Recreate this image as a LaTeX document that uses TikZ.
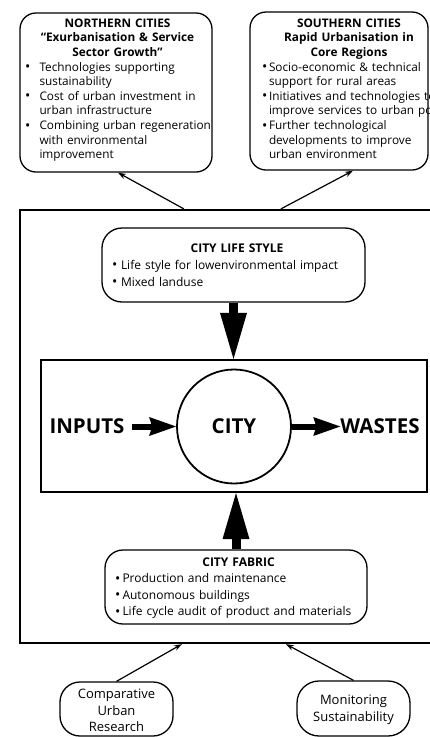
\documentclass[tikz,border=0pt]{standalone}
\usepackage{fontspec}
\setmainfont{Open Sans}
\usetikzlibrary{arrows.meta}

% bullet indentation inside the text blocks; every line ends its own paragraph
\newlength\bind
\newcommand\dotmark{\raisebox{-0.5pt}{\fontsize{14pt}{14pt}\selectfont\textbullet}}
\newcommand\titleline[1]{\noindent\makebox[\linewidth]{\bfseries #1}\par}
\newcommand\bulletline[1]{\noindent\makebox[\bind][l]{\dotmark}\mbox{#1}\par}
\newcommand\contline[1]{\noindent\hspace*{\bind}\mbox{#1}\par}

\newcommand\fontA{\fontsize{11.8pt}{14.6pt}\selectfont}
\newcommand\fontB{\fontsize{12pt}{17pt}\selectfont}
\newcommand\fontC{\fontsize{12pt}{16.5pt}\selectfont}
\newcommand\fontD{\fontsize{13pt}{16.5pt}\selectfont}

\begin{document}
\begin{tikzpicture}[x=1pt,y=-1pt,
  rbox/.style={draw, line width=1.3pt, inner sep=0pt},
  frame/.style={draw, line width=2.2pt, inner sep=0pt},
  txt/.style={inner sep=0pt, anchor=base, align=left},
  bigtxt/.style={inner sep=0pt, font=\fontsize{20.5pt}{24pt}\selectfont\bfseries},
  thinarrow/.style={line width=1.2pt, -{Stealth[length=8pt,width=5.5pt]}},
  fatarrow/.style={line width=6pt, -{Stealth[length=27pt,width=19pt,inset=3pt,line width=0pt]}},
  bigarrow/.style={line width=9pt, -{Triangle[length=46pt,width=27pt,line width=0pt]}}]

\useasboundingbox (0,0) rectangle (430,737);
\clip (0,0) rectangle (430,737);

% frames
\node[frame, minimum width=450pt, minimum height=433pt] (outer) at (245,426.5) {};
\node[frame, minimum width=386pt, minimum height=132pt] (inner) at (234,426) {};

% rounded boxes
\node[rbox, rounded corners=16pt, minimum width=192pt, minimum height=159pt] (north) at (116,92.5) {};
\node[rbox, rounded corners=16pt, minimum width=178pt, minimum height=158pt] (south) at (339,91) {};
\node[rbox, rounded corners=20pt, minimum width=263pt, minimum height=74pt] (life) at (233.5,265) {};
\node[rbox, rounded corners=18pt, minimum width=262pt, minimum height=74pt] (fab) at (236,587) {};
\node[rbox, rounded corners=20pt, minimum width=113pt, minimum height=54pt] (comp) at (116.5,709) {};
\node[rbox, rounded corners=22pt, minimum width=113pt, minimum height=55pt] (mon) at (353.5,708.5) {};

% box texts
\node[txt, text width=185pt, font=\fontA] (northtxt) at (117.5,27.3) {%
  \setlength\bind{14.5pt}%
  \titleline{NORTHERN CITIES}%
  \titleline{“Exurbanisation \& Service}%
  \titleline{Sector Growth”}%
  \bulletline{Technologies supporting}\contline{sustainability}%
  \bulletline{Cost of urban investment in}\contline{urban infrastructure}%
  \bulletline{Combining urban regeneration}\contline{with environmental}\contline{improvement}};

\node[txt, text width=174pt, font=\fontA] (southtxt) at (349,27.3) {%
  \setlength\bind{7pt}%
  \titleline{SOUTHERN CITIES}%
  \titleline{Rapid Urbanisation in}%
  \titleline{Core Regions}%
  \bulletline{Socio-economic \& technical}\contline{support for rural areas}%
  \bulletline{Initiatives and technologies to}\contline{improve services to urban poor}%
  \bulletline{Further technological}\contline{developments to improve}\contline{urban environment}};

\node[txt, text width=250pt, font=\fontB] (lifetxt) at (237,252) {%
  \setlength\bind{9pt}%
  \titleline{CITY LIFE STYLE}%
  \bulletline{Life style for lowenvironmental impact}%
  \bulletline{Mixed landuse}};

\node[txt, text width=247pt, font=\fontC] (fabtxt) at (238.5,566) {%
  \setlength\bind{7.5pt}%
  \titleline{CITY FABRIC}%
  \bulletline{Production and maintenance}%
  \bulletline{Autonomous buildings}%
  \bulletline{Life cycle audit of product and materials}};

\node[txt, text width=110pt, align=center, font=\fontD] (comptxt) at (116.5,698.5) {Comparative\\Urban\\Research};
\node[txt, text width=110pt, align=center, font=\fontD] (montxt) at (353.5,704.5) {Monitoring\\Sustainability};

% city core
\node[bigtxt, circle, draw, line width=1.8pt, minimum size=114pt] (city) at (234,426.5) {CITY};
\node[bigtxt] (inputs) at (87,426.5) {INPUTS};
\node[bigtxt] (wastes) at (380,426.5) {WASTES};

% connectors
\draw[fatarrow, shorten <=7pt] (inputs.east) -- (city.west);
\draw[fatarrow] (city.east) -- (wastes.west);
\draw[bigarrow] (life.south) -- (life.south |- inner.north);
\draw[bigarrow] (fab.north) -- (fab.north |- inner.south);

\draw[thinarrow] ([xshift=165pt]outer.north west) -- ([xshift=2pt]north.south);
\draw[thinarrow] ([xshift=262pt]outer.north west) -- ([xshift=14pt]south.south);
\draw[thinarrow] (comp.north) -- ([xshift=163pt]outer.south west);
\draw[thinarrow] (mon.north) -- ([xshift=267pt]outer.south west);
\end{tikzpicture}
\end{document}
